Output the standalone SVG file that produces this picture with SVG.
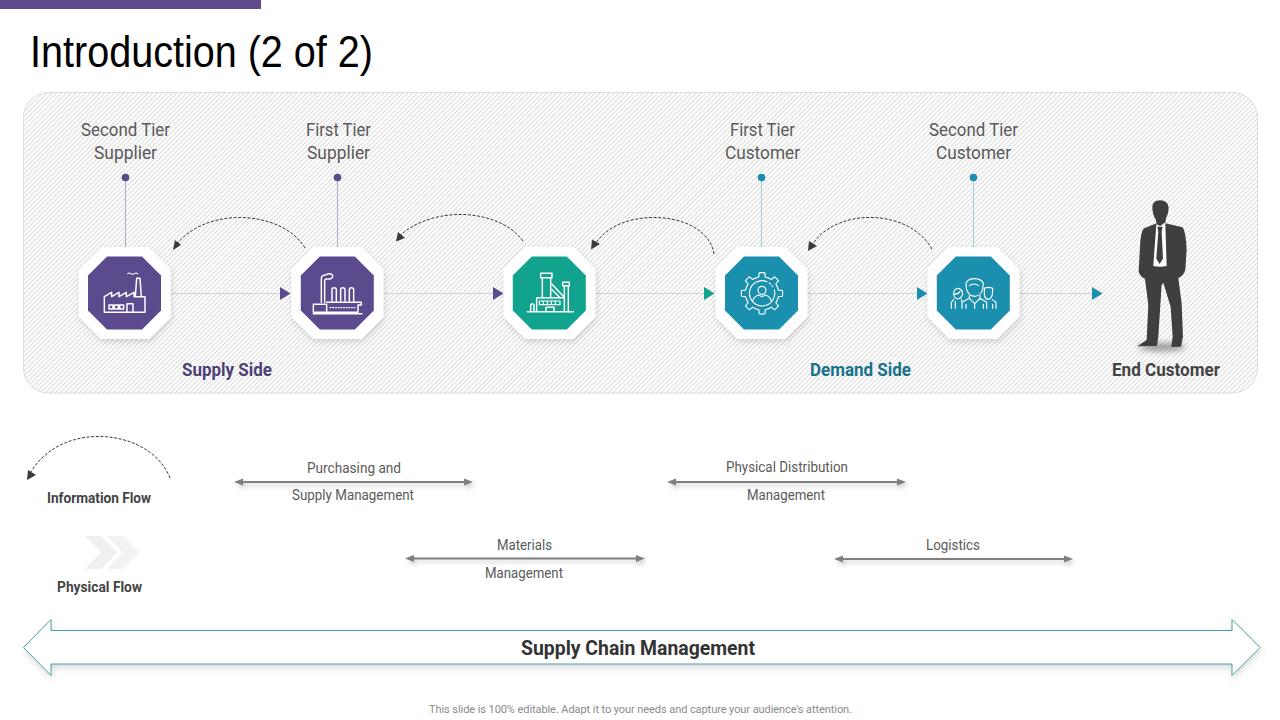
<svg xmlns="http://www.w3.org/2000/svg" xmlns:xlink="http://www.w3.org/1999/xlink" width="1280" height="720" viewBox="0 0 1280 720">
<style>
text{font-family:Roboto,"Liberation Sans",sans-serif}
.t{font-size:19px;fill:#5a5a5a}
.s{font-size:14.5px;fill:#5a5a5a}
.b{font-size:19px;font-weight:700}
.l{font-size:14.5px;font-weight:700;fill:#444}
.flow{fill:none;stroke:#d2d2d8;stroke-width:1.2}
.lead{fill:none;stroke-width:1.1}
.dash{fill:none;stroke:#3a3a3a;stroke-width:1;stroke-dasharray:3 1.6}
.head{fill:#3a3a3a}
.dbl{fill:none;stroke:#7f7f7f;stroke-width:2}
.dblh{fill:#7f7f7f}
.ic{fill:none;stroke:#fff;stroke-width:4.4;stroke-linejoin:round;stroke-linecap:round}
.icn{fill:none;stroke:#fff;stroke-width:3.4;stroke-linejoin:round;stroke-linecap:round}
</style>
<defs>
<pattern id="hatch" width="3.4" height="3.4" patternUnits="userSpaceOnUse" patternTransform="rotate(45)">
<rect width="3.4" height="3.4" fill="#fff"/>
<rect x="0" y="0" width="1" height="3.4" fill="#d9d9d9"/>
</pattern>
<filter id="sh" x="-30%" y="-30%" width="160%" height="170%"><feDropShadow dx="1" dy="3" stdDeviation="3" flood-color="#666" flood-opacity=".25"/></filter>
<filter id="shl" x="-5%" y="-200%" width="110%" height="500%"><feDropShadow dx="2" dy="3" stdDeviation="2" flood-color="#555" flood-opacity=".3"/></filter>
<filter id="blur" x="-30%" y="-100%" width="160%" height="300%"><feGaussianBlur stdDeviation="3"/></filter>
<polygon id="octo" points="-24,-46 24,-46 46,-24 46,24 24,46 -24,46 -46,24 -46,-24"/>
<polygon id="octi" points="-17.500,-36.500 17.500,-36.500 36.500,-17.500 36.500,17.500 17.500,36.500 -17.500,36.500 -36.500,17.500 -36.500,-17.500"/>
<polygon id="tri" points="0,-6.500 10.500,0 0,6.500"/>
<path id="tooth" d="M-19.100,-46.200A50,50 0 0 1 -9.500,-49.100L-8.600,-61.400Q0,-63 8.600,-61.400L9.500,-49.100A50,50 0 0 1 19.100,-46.200"/>
</defs>

<rect id="top-bar" x="0" y="0" width="261" height="9" fill="#5f4b8b"/>
<text id="title" x="30" y="67" font-size="44" textLength="343" lengthAdjust="spacingAndGlyphs" fill="#000" style="font-family:'Liberation Sans',Arial,sans-serif">Introduction (2 of 2)</text>

<rect id="panel" x="23.500" y="92.500" width="1234" height="300.500" rx="25" fill="url(#hatch)" stroke="#dcdcdc" stroke-width="1"/>

<g id="connectors">
<path class="flow" d="M171,293.500H281M383,293.500H494M595,293.500H705M807,293.500H918M1019,293.500H1093"/>
<use xlink:href="#tri" href="#tri" x="280" y="293.500" fill="#5c4a8e"/>
<use xlink:href="#tri" href="#tri" x="493" y="293.500" fill="#5c4a8e"/>
<use xlink:href="#tri" href="#tri" x="704" y="293.500" fill="#12a38e"/>
<use xlink:href="#tri" href="#tri" x="917" y="293.500" fill="#1b8fae"/>
<use xlink:href="#tri" href="#tri" x="1092" y="293.500" fill="#1b8fae"/>

<path class="lead" stroke="#b5acca" d="M125.500,177.500V248M337.500,177.500V248"/>
<path class="lead" stroke="#a3d0dc" d="M761.500,177.500V248M973.500,177.500V248"/>
<circle cx="125.500" cy="177.500" r="3.800" fill="#5c4a8e"/>
<circle cx="337.500" cy="177.500" r="3.800" fill="#5c4a8e"/>
<circle cx="761.500" cy="177.500" r="3.800" fill="#1b8fae"/>
<circle cx="973.500" cy="177.500" r="3.800" fill="#1b8fae"/>

<path class="dash" d="M305,248C292,226 262,217 238,217.500C212,218 190,228 178,243"/>
<polygon class="head" points="173,250 175,240 181,245"/>
<path class="dash" d="M523,241C509,222 482,214 458,214.500C434,215 412,224 401,235"/>
<polygon class="head" points="396,241.500 398,232 405,238"/>
<path class="dash" d="M714,254C711,232 685,217 652,217.500C626,218 606,228 596,243"/>
<polygon class="head" points="591,249.500 592,239.500 600,244"/>
<path class="dash" d="M932,249C920,228 895,217 868,217.500C843,218 822,229 813,244"/>
<polygon class="head" points="808,251 809,241 817,246"/>

<path class="dash" d="M170,478C160,452 130,436 97,436.500C65,437 42,453 31,472"/>
<polygon class="head" points="27,480 28,470 36,475"/>

<g filter="url(#shl)">
<path class="dbl" d="M238,482H469"/><polygon class="dblh" points="234,482 243,478.500 243,485.500"/><polygon class="dblh" points="473,482 464,478.500 464,485.500"/>
</g>
<g filter="url(#shl)">
<path class="dbl" d="M409,558.500H641"/><polygon class="dblh" points="405,558.500 414,555 414,562"/><polygon class="dblh" points="645,558.500 636,555 636,562"/>
</g>
<g filter="url(#shl)">
<path class="dbl" d="M671,482H902"/><polygon class="dblh" points="667,482 676,478.500 676,485.500"/><polygon class="dblh" points="906,482 897,478.500 897,485.500"/>
</g>
<g filter="url(#shl)">
<path class="dbl" d="M838,559H1069"/><polygon class="dblh" points="834,559 843,555.500 843,562.500"/><polygon class="dblh" points="1073,559 1064,555.500 1064,562.500"/>
</g>
</g>

<g id="node-second-tier-supplier">
<text class="t" x="81" y="136" textLength="89" lengthAdjust="spacingAndGlyphs">Second Tier</text>
<text class="t" x="94" y="159" textLength="63" lengthAdjust="spacingAndGlyphs">Supplier</text>
<use xlink:href="#octo" href="#octo" x="124.800" y="293" fill="#fff" filter="url(#sh)"/>
<use xlink:href="#octi" href="#octi" x="124.500" y="293" fill="#5c4a8e"/>
<g transform="translate(85 255) scale(.3333)">
<path class="ic" d="M58,172V125L80,112V125L102,112V125L124,112V125L147,112V125H151L155,70H165L169,125H180V172ZM169,125H151"/>
<path class="ic" d="M72,150h12v12h-12zM88,150h12v12h-12zM104,150h12v12h-12zM126,172V146h18v26"/>
<path class="icn" d="M128,56q5,-4 10,0t10,0t10,0"/>
</g>
</g>

<g id="node-first-tier-supplier">
<text class="t" x="306" y="136" textLength="65" lengthAdjust="spacingAndGlyphs">First Tier</text>
<text class="t" x="307" y="159" textLength="63" lengthAdjust="spacingAndGlyphs">Supplier</text>
<use xlink:href="#octo" href="#octo" x="337.500" y="293" fill="#fff" filter="url(#sh)"/>
<use xlink:href="#octi" href="#octi" x="337.300" y="293" fill="#5c4a8e"/>
<g transform="translate(298 255) scale(.3333)">
<path class="ic" d="M70,142V72Q70,60 82,60L92,56Q106,56 104,66Q100,74 84,72L80,76V142"/>
<path class="ic" d="M102,138V104Q102,98 108,98Q115,98 115,104V138M128,138V104Q128,98 134,98Q141,98 141,104V138M154,138V104Q154,98 160,98Q167,98 167,104V138"/>
<path class="ic" d="M46,148H86V172H46ZM86,142H190V150H180V172H86M46,176H192"/>
<path class="icn" stroke-dasharray="3 5" d="M96,158H172"/>
</g>
</g>

<g id="node-manufacturer">
<use xlink:href="#octo" href="#octo" x="549.500" y="293" fill="#fff" filter="url(#sh)"/>
<use xlink:href="#octi" href="#octi" x="549.300" y="293" fill="#12a38e"/>
<g transform="translate(510 255) scale(.3333)">
<path class="ic" d="M92,55H126V68H92ZM97,68V128M122,68V128M158,82H178V92H158ZM163,92V130M175,92V170M126,88L160,124M126,104L150,128"/>
<path class="ic" d="M80,170V128H163V170M52,170H190M108,170V157H132V170M62,170V150Q67,142 72,150V170"/>
<path class="icn" d="M88,138H150V149H88ZM100,138V149M112,138V149M124,138V149M136,138V149"/>
</g>
</g>

<g id="node-first-tier-customer">
<text class="t" x="730" y="136" textLength="65" lengthAdjust="spacingAndGlyphs">First Tier</text>
<text class="t" x="725" y="159" textLength="75" lengthAdjust="spacingAndGlyphs">Customer</text>
<use xlink:href="#octo" href="#octo" x="761.500" y="293" fill="#fff" filter="url(#sh)"/>
<use xlink:href="#octi" href="#octi" x="761.500" y="293" fill="#1b8fae"/>
<g transform="translate(722 255) scale(.3333)">
<g transform="translate(120 115)" class="icn">
<use xlink:href="#tooth" href="#tooth"/>
<use xlink:href="#tooth" href="#tooth" transform="rotate(45)"/>
<use xlink:href="#tooth" href="#tooth" transform="rotate(90)"/>
<use xlink:href="#tooth" href="#tooth" transform="rotate(135)"/>
<use xlink:href="#tooth" href="#tooth" transform="rotate(180)"/>
<use xlink:href="#tooth" href="#tooth" transform="rotate(225)"/>
<use xlink:href="#tooth" href="#tooth" transform="rotate(270)"/>
<use xlink:href="#tooth" href="#tooth" transform="rotate(315)"/>
</g>
<path class="icn" d="M135,80A38,38 0 1 0 157,105M142,84l3,3M150,92l2,3"/>
<circle class="icn" cx="120" cy="106" r="12"/>
<path class="icn" d="M92,138Q96,124 110,120Q120,128 130,120Q144,124 148,138"/>
</g>
</g>

<g id="node-second-tier-customer">
<text class="t" x="929" y="136" textLength="89" lengthAdjust="spacingAndGlyphs">Second Tier</text>
<text class="t" x="936" y="159" textLength="75" lengthAdjust="spacingAndGlyphs">Customer</text>
<use xlink:href="#octo" href="#octo" x="973.500" y="293" fill="#fff" filter="url(#sh)"/>
<use xlink:href="#octi" href="#octi" x="973.300" y="293" fill="#1b8fae"/>
<g transform="translate(934 255) scale(.3333)">
<path class="icn" d="M97,100L96,84Q104,70 122,71Q142,72 148,84L146,102Q142,122 122,124Q102,122 97,100ZM106,92Q120,82 134,92"/>
<path class="icn" d="M106,122V130L84,142V160M138,122V130L158,142V160M106,130L122,146L138,130M122,146V160M96,148V160M148,148V160"/>
<path class="icn" d="M60,122Q56,106 70,100Q84,100 86,116Q84,130 70,132Q62,130 60,122ZM60,132L52,142V160M82,134L84,140M64,140V160M60,118Q72,118 78,110"/>
<path class="icn" d="M151,100Q162,94 176,100L175,118Q172,132 162,133Q154,132 151,120ZM175,134L186,142V160M176,148V160"/>
</g>
</g>

<g id="node-end-customer">
<ellipse cx="1162" cy="347" rx="24" ry="4" fill="#555" opacity=".6" filter="url(#blur)"/>
<g transform="translate(900 190) scale(.3333)">
<path fill="#3f3f3f" d="M757,50Q758,32 780,31Q804,32 806,52Q806,72 798,84L796,100L848,112Q858,125 860,180L856,240Q850,258 835,264L845,340L849,440L843,470L814,471L818,440L812,350L790,278L785,285L775,440L771,468L712,469L740,450L745,345L735,266Q722,262 716,245L720,170Q722,125 732,115L770,100L767,88Q757,72 757,50Z"/>
<path fill="#fff" d="M769,103L781,108L796,97L800,228Q780,233 760,228Z"/>
<path fill="#3f3f3f" d="M772,110H788L785,125L789,206L779,222L769,206L775,125Z"/>
</g>
<text class="b" x="1112" y="376" fill="#444" textLength="108" lengthAdjust="spacingAndGlyphs">End Customer</text>
</g>

<g id="side-labels">
<text class="b" x="182" y="376" fill="#4f3f78" textLength="90" lengthAdjust="spacingAndGlyphs">Supply Side</text>
<text class="b" x="810" y="376" fill="#17728c" textLength="101" lengthAdjust="spacingAndGlyphs">Demand Side</text>
</g>

<g id="legend">
<text class="l" x="47" y="503" textLength="104" lengthAdjust="spacingAndGlyphs">Information Flow</text>
<polygon fill="#f2f2f2" points="107,536 123,536 139,552.500 123,569 107,569 123,552.500"/>
<polygon fill="#efefef" points="85,536 101,536 117,552.500 101,569 85,569 101,552.500"/>
<text class="l" x="57" y="592" textLength="85" lengthAdjust="spacingAndGlyphs">Physical Flow</text>
</g>

<g id="scope-labels">
<text class="s" x="307" y="473" textLength="94" lengthAdjust="spacingAndGlyphs">Purchasing and</text>
<text class="s" x="292" y="500" textLength="122" lengthAdjust="spacingAndGlyphs">Supply Management</text>
<text class="s" x="726" y="472" textLength="122" lengthAdjust="spacingAndGlyphs">Physical Distribution</text>
<text class="s" x="747" y="500" textLength="78" lengthAdjust="spacingAndGlyphs">Management</text>
<text class="s" x="497" y="550" textLength="55" lengthAdjust="spacingAndGlyphs">Materials</text>
<text class="s" x="485" y="578" textLength="78" lengthAdjust="spacingAndGlyphs">Management</text>
<text class="s" x="926" y="550" textLength="54" lengthAdjust="spacingAndGlyphs">Logistics</text>
</g>

<g id="node-supply-chain-management">
<polygon points="23.500,647.500 51,619.500 51,630.500 1232,630.500 1232,619.500 1260,647.500 1232,675.500 1232,664 51,664 51,675.500" fill="#fff" stroke="#4a9ea0" stroke-width="1" filter="url(#sh)"/>
<text x="521" y="655" font-size="20" font-weight="700" fill="#333" textLength="234" lengthAdjust="spacingAndGlyphs">Supply Chain Management</text>
</g>

<text id="footer" x="429" y="713" font-size="11" fill="#8a8a8a" textLength="423" lengthAdjust="spacing">This slide is 100% editable. Adapt it to your needs and capture your audience's attention.</text>
</svg>
